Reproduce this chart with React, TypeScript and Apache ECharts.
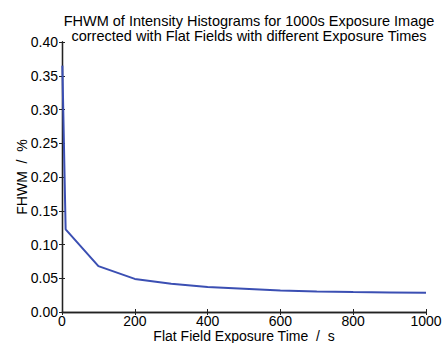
import React, { useEffect, useRef } from "react";
import * as echarts from "echarts";

const exposureTimes = [1, 10, 100, 200, 300, 400, 500, 600, 700, 800, 900, 1000];
const fhwmValues = [0.365, 0.1225, 0.068, 0.049, 0.042, 0.037, 0.0345, 0.032, 0.0305, 0.0295, 0.029, 0.0285];
const titleLines = [
  "FHWM of Intensity Histograms for 1000s Exposure Image",
  "corrected with Flat Fields with different Exposure Times",
];
const xAxisName = "Flat Field Exposure Time  /  s";
const yAxisName = "FHWM  /  %";

const FONT = "'Liberation Sans', Arial, sans-serif";

export default function App() {
  const ref = useRef<HTMLDivElement>(null);
  useEffect(() => {
    if (!ref.current) return;
    const chart = echarts.init(ref.current, undefined, { renderer: "svg" });
    const axisLine = { show: true, lineStyle: { color: "#222", width: 1.3 } };
    const tick = { show: true, inside: true, length: 3, lineStyle: { color: "#222" } };
    chart.setOption({
      animation: false,
      backgroundColor: "#fff",
      title: {
        text: titleLines.join("\n"),
        left: 244,
        textAlign: "center",
        top: 8,
        textStyle: { fontFamily: FONT, fontSize: 14.5, fontWeight: "normal", color: "#000", lineHeight: 15.5 },
      },
      grid: { left: 62, right: 16, top: 42, bottom: 31, containLabel: false, outerBoundsMode: "none" },
      xAxis: [
        {
          type: "value",
          min: 0,
          max: 1000,
          interval: 200,
          position: "bottom",
          axisLine,
          axisTick: tick,
          splitLine: { show: false },
          axisLabel: {
            fontFamily: FONT,
            fontSize: 14,
            lineHeight: 14,
            color: "#000",
            margin: 2,
            formatter: (v: number) => String(v),
          },
          name: xAxisName,
          nameLocation: "middle",
          nameGap: 17,
          nameMoveOverlap: false,
          nameTextStyle: { fontFamily: FONT, fontSize: 14, color: "#000", lineHeight: 14 },
        },
        {
          type: "value",
          min: 0,
          max: 1000,
          interval: 200,
          position: "top",
          axisLine,
          axisTick: tick,
          splitLine: { show: false },
          axisLabel: { show: false },
        },
      ],
      yAxis: [
        {
          type: "value",
          min: 0,
          max: 0.4,
          interval: 0.05,
          position: "left",
          axisLine,
          axisTick: tick,
          splitLine: { show: false },
          axisLabel: {
            fontFamily: FONT,
            fontSize: 14,
            color: "#000",
            margin: 4,
            formatter: (v: number) => v.toFixed(2),
          },
          name: yAxisName,
          nameLocation: "middle",
          nameGap: 33,
          nameMoveOverlap: false,
          nameTextStyle: { fontFamily: FONT, fontSize: 14, color: "#000" },
        },
        {
          type: "value",
          min: 0,
          max: 0.4,
          interval: 0.05,
          position: "right",
          axisLine,
          axisTick: tick,
          splitLine: { show: false },
          axisLabel: { show: false },
        },
      ],
      series: [
        {
          type: "line",
          data: exposureTimes.map((x, i) => [x, fhwmValues[i]]),
          showSymbol: false,
          symbol: "none",
          lineStyle: { color: "#3b4fb3", width: 2 },
          xAxisIndex: 0,
          yAxisIndex: 0,
        },
      ],
    });
    return () => chart.dispose();
  }, []);
  return <div ref={ref} style={{ width: 442, height: 343, position: "absolute", left: 0, top: 0 }} />;
}
